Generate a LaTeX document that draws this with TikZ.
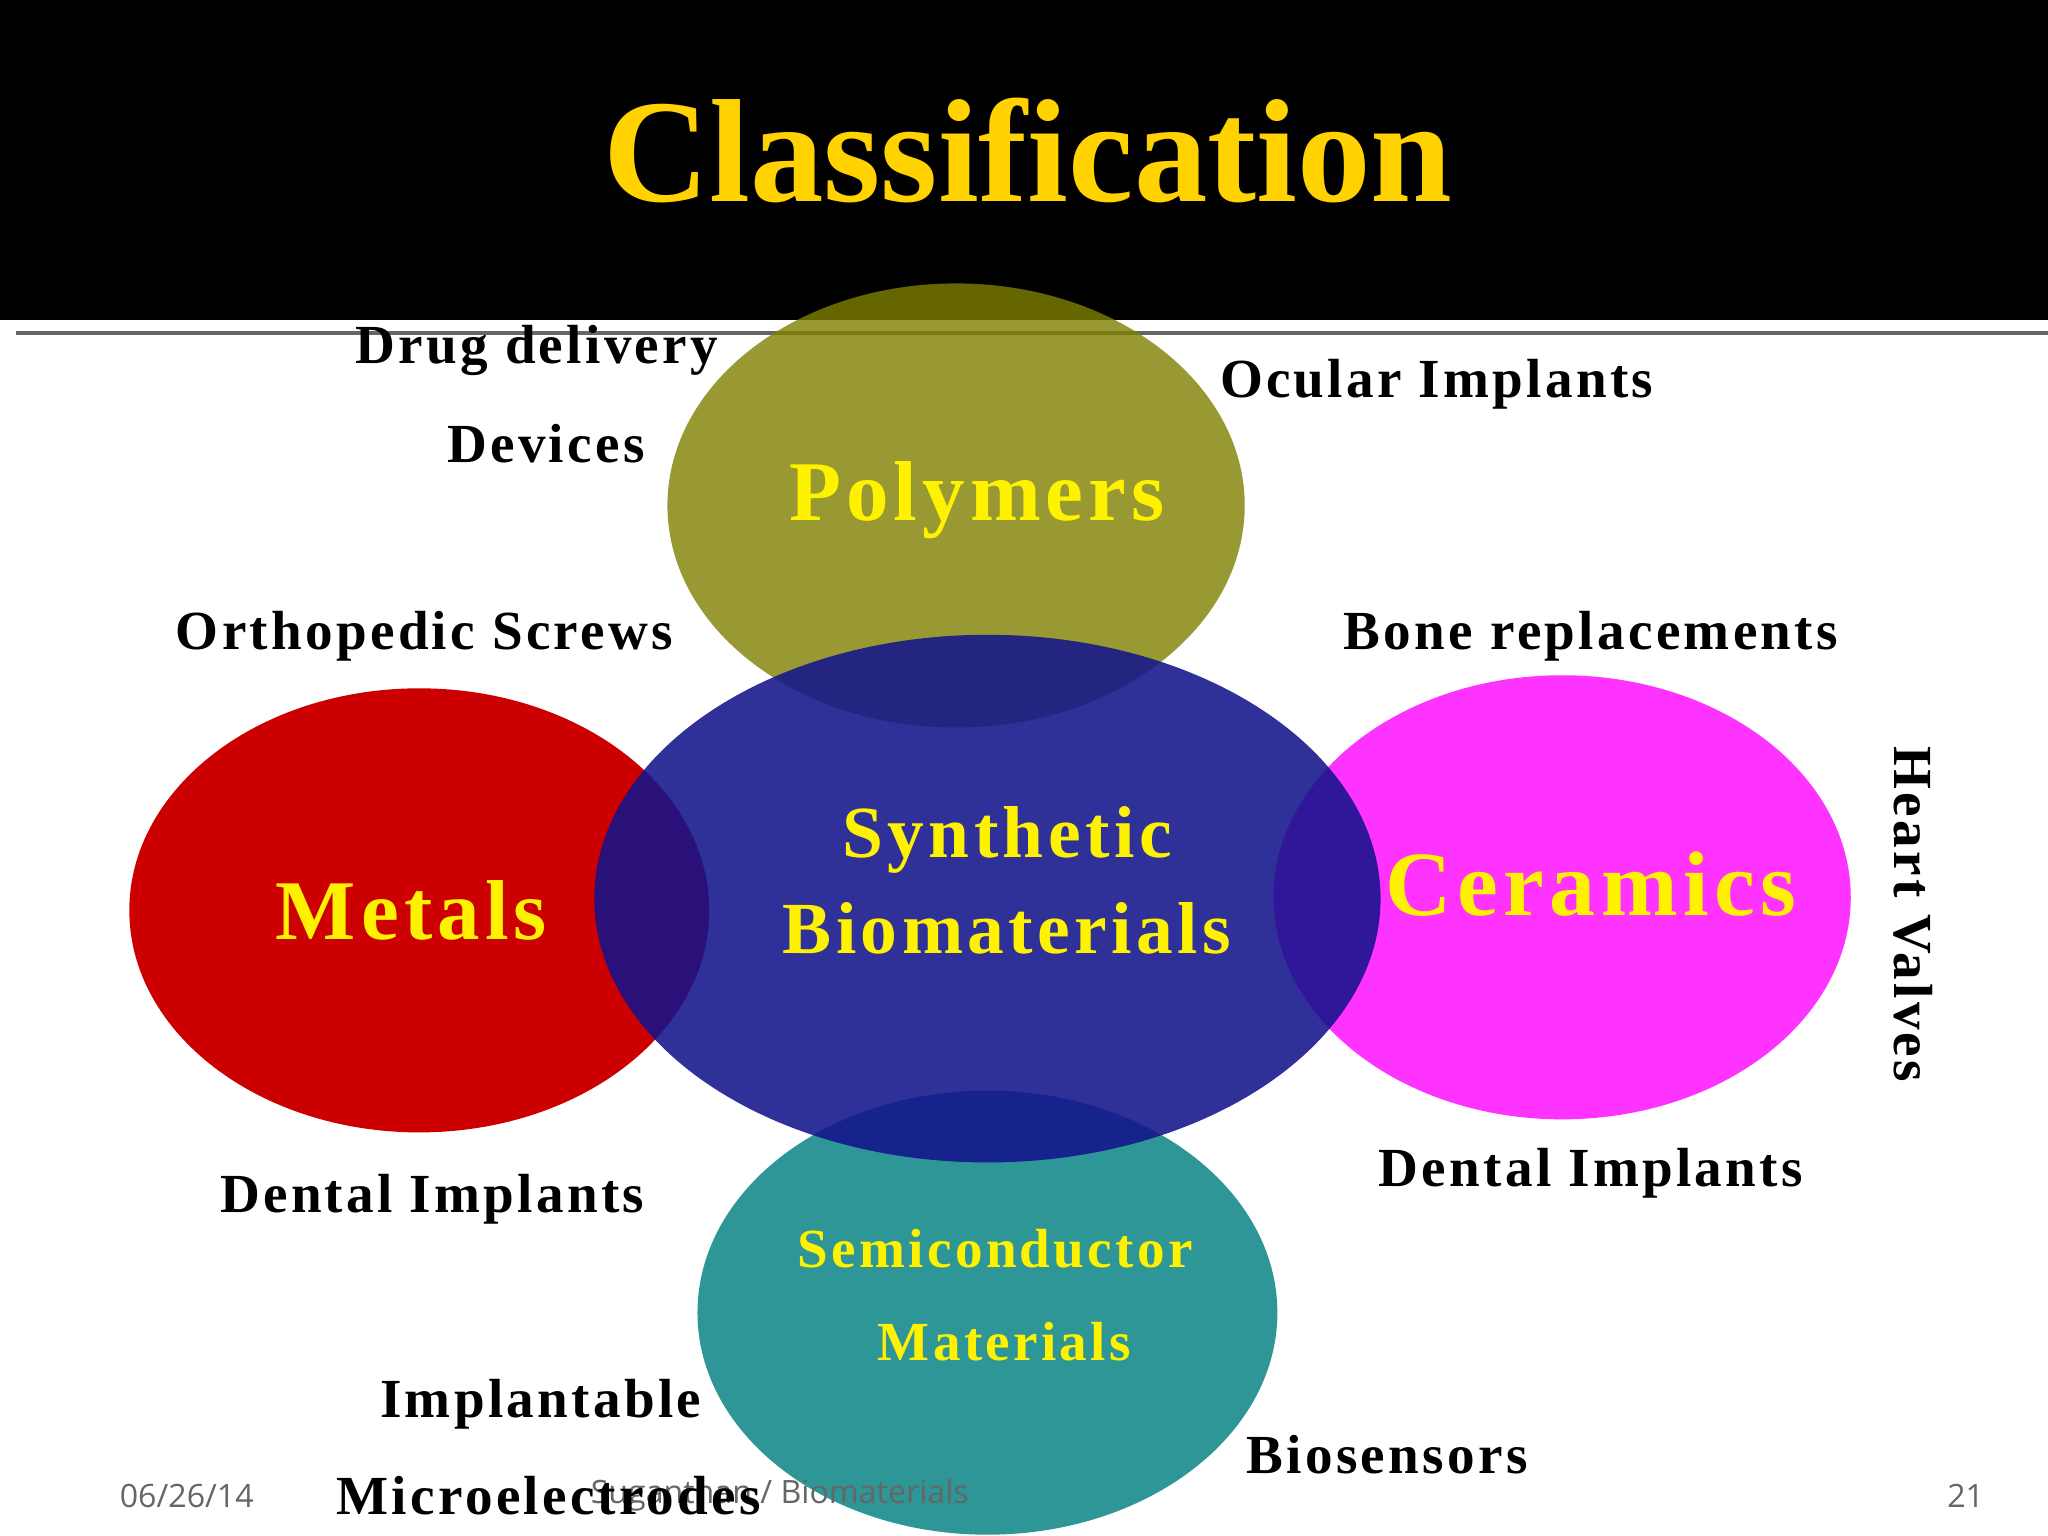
\documentclass[tikz,border=0pt]{standalone}
\usepackage{fontspec}
\setmainfont{Liberation Serif}[LetterSpace=6]
\newfontfamily\titlefont{Liberation Serif}[LetterSpace=0]
\newfontfamily\footfont{Open Sans}
\begin{document}
\begin{tikzpicture}[x=0.01cm,y=-0.01cm,
  ylab/.style={text=yellow,font=\bfseries\fontsize{18.5}{22}\selectfont,align=center},
  blab/.style={text=black,font=\bfseries\fontsize{12}{14}\selectfont},
  foot/.style={text=black!60,font=\footfont\fontsize{7}{8}\selectfont}]
\useasboundingbox (0,0) rectangle (1568,1176);
\fill[white] (0,0) rectangle (1568,1176);
\fill[black] (0,0) rectangle (1568,245);
\draw[black!60,line width=0.8pt] (12,255) -- (1568,255);
\node[text={rgb,255:red,255;green,210;blue,0},font=\titlefont\bfseries\fontsize{32}{36}\selectfont] (title) at (787,115) {Classification};
\fill[fill={rgb,255:red,128;green,128;blue,0},opacity=0.8] (732,387) ellipse (221 and 170);
\fill[fill={rgb,255:red,204;green,0;blue,0}] (321,697) ellipse (222 and 170);
\fill[fill={rgb,255:red,255;green,51;blue,255}] (1196,687) ellipse (221 and 170);
\fill[fill={rgb,255:red,46;green,150;blue,150}] (756,1005) ellipse (222 and 170);
\fill[fill={rgb,255:red,20;green,20;blue,140},opacity=0.88] (756,688) ellipse (301 and 202);
\node[ylab] (poly) at (748,383) {Polymers};
\node[ylab] (met) at (315,697) {Metals};
\node[ylab,font=\bfseries\fontsize{20}{24}\selectfont] (cer) at (1218,677) {Ceramics};
\node[ylab,font=\bfseries\fontsize{16}{21}\selectfont] (syn) at (771,674) {Synthetic\\Biomaterials};
\node[ylab,font=\bfseries\fontsize{12}{14}\selectfont] (semi) at (762,956) {Semiconductor};
\node[ylab,font=\bfseries\fontsize{12}{14}\selectfont] (mat) at (769,1027) {Materials};
\node[blab] (dd) at (411,268) {Drug delivery};
\node[blab] (dev) at (418,340) {Devices};
\node[blab] (oc) at (1100,294) {Ocular Implants};
\node[blab] (os) at (325,487) {Orthopedic Screws};
\node[blab] (br) at (1218,487) {Bone replacements};
\node[blab,rotate=-90] (hv) at (1465,700) {Heart Valves};
\node[blab] (di1) at (331,918) {Dental Implants};
\node[blab] (di2) at (1218,898) {Dental Implants};
\node[blab] (imp) at (414,1075) {Implantable};
\node[blab] (bio) at (1062,1114) {Biosensors};
\node[foot] (date) at (143,1145) {06/26/14};
\node[foot] (auth) at (597,1145) {Suganthan / Biomaterials};
\node[foot] (pg) at (1505,1145) {21};
\node[blab] (mic) at (420,1145) {Microelectrodes};
\end{tikzpicture}
\end{document}
